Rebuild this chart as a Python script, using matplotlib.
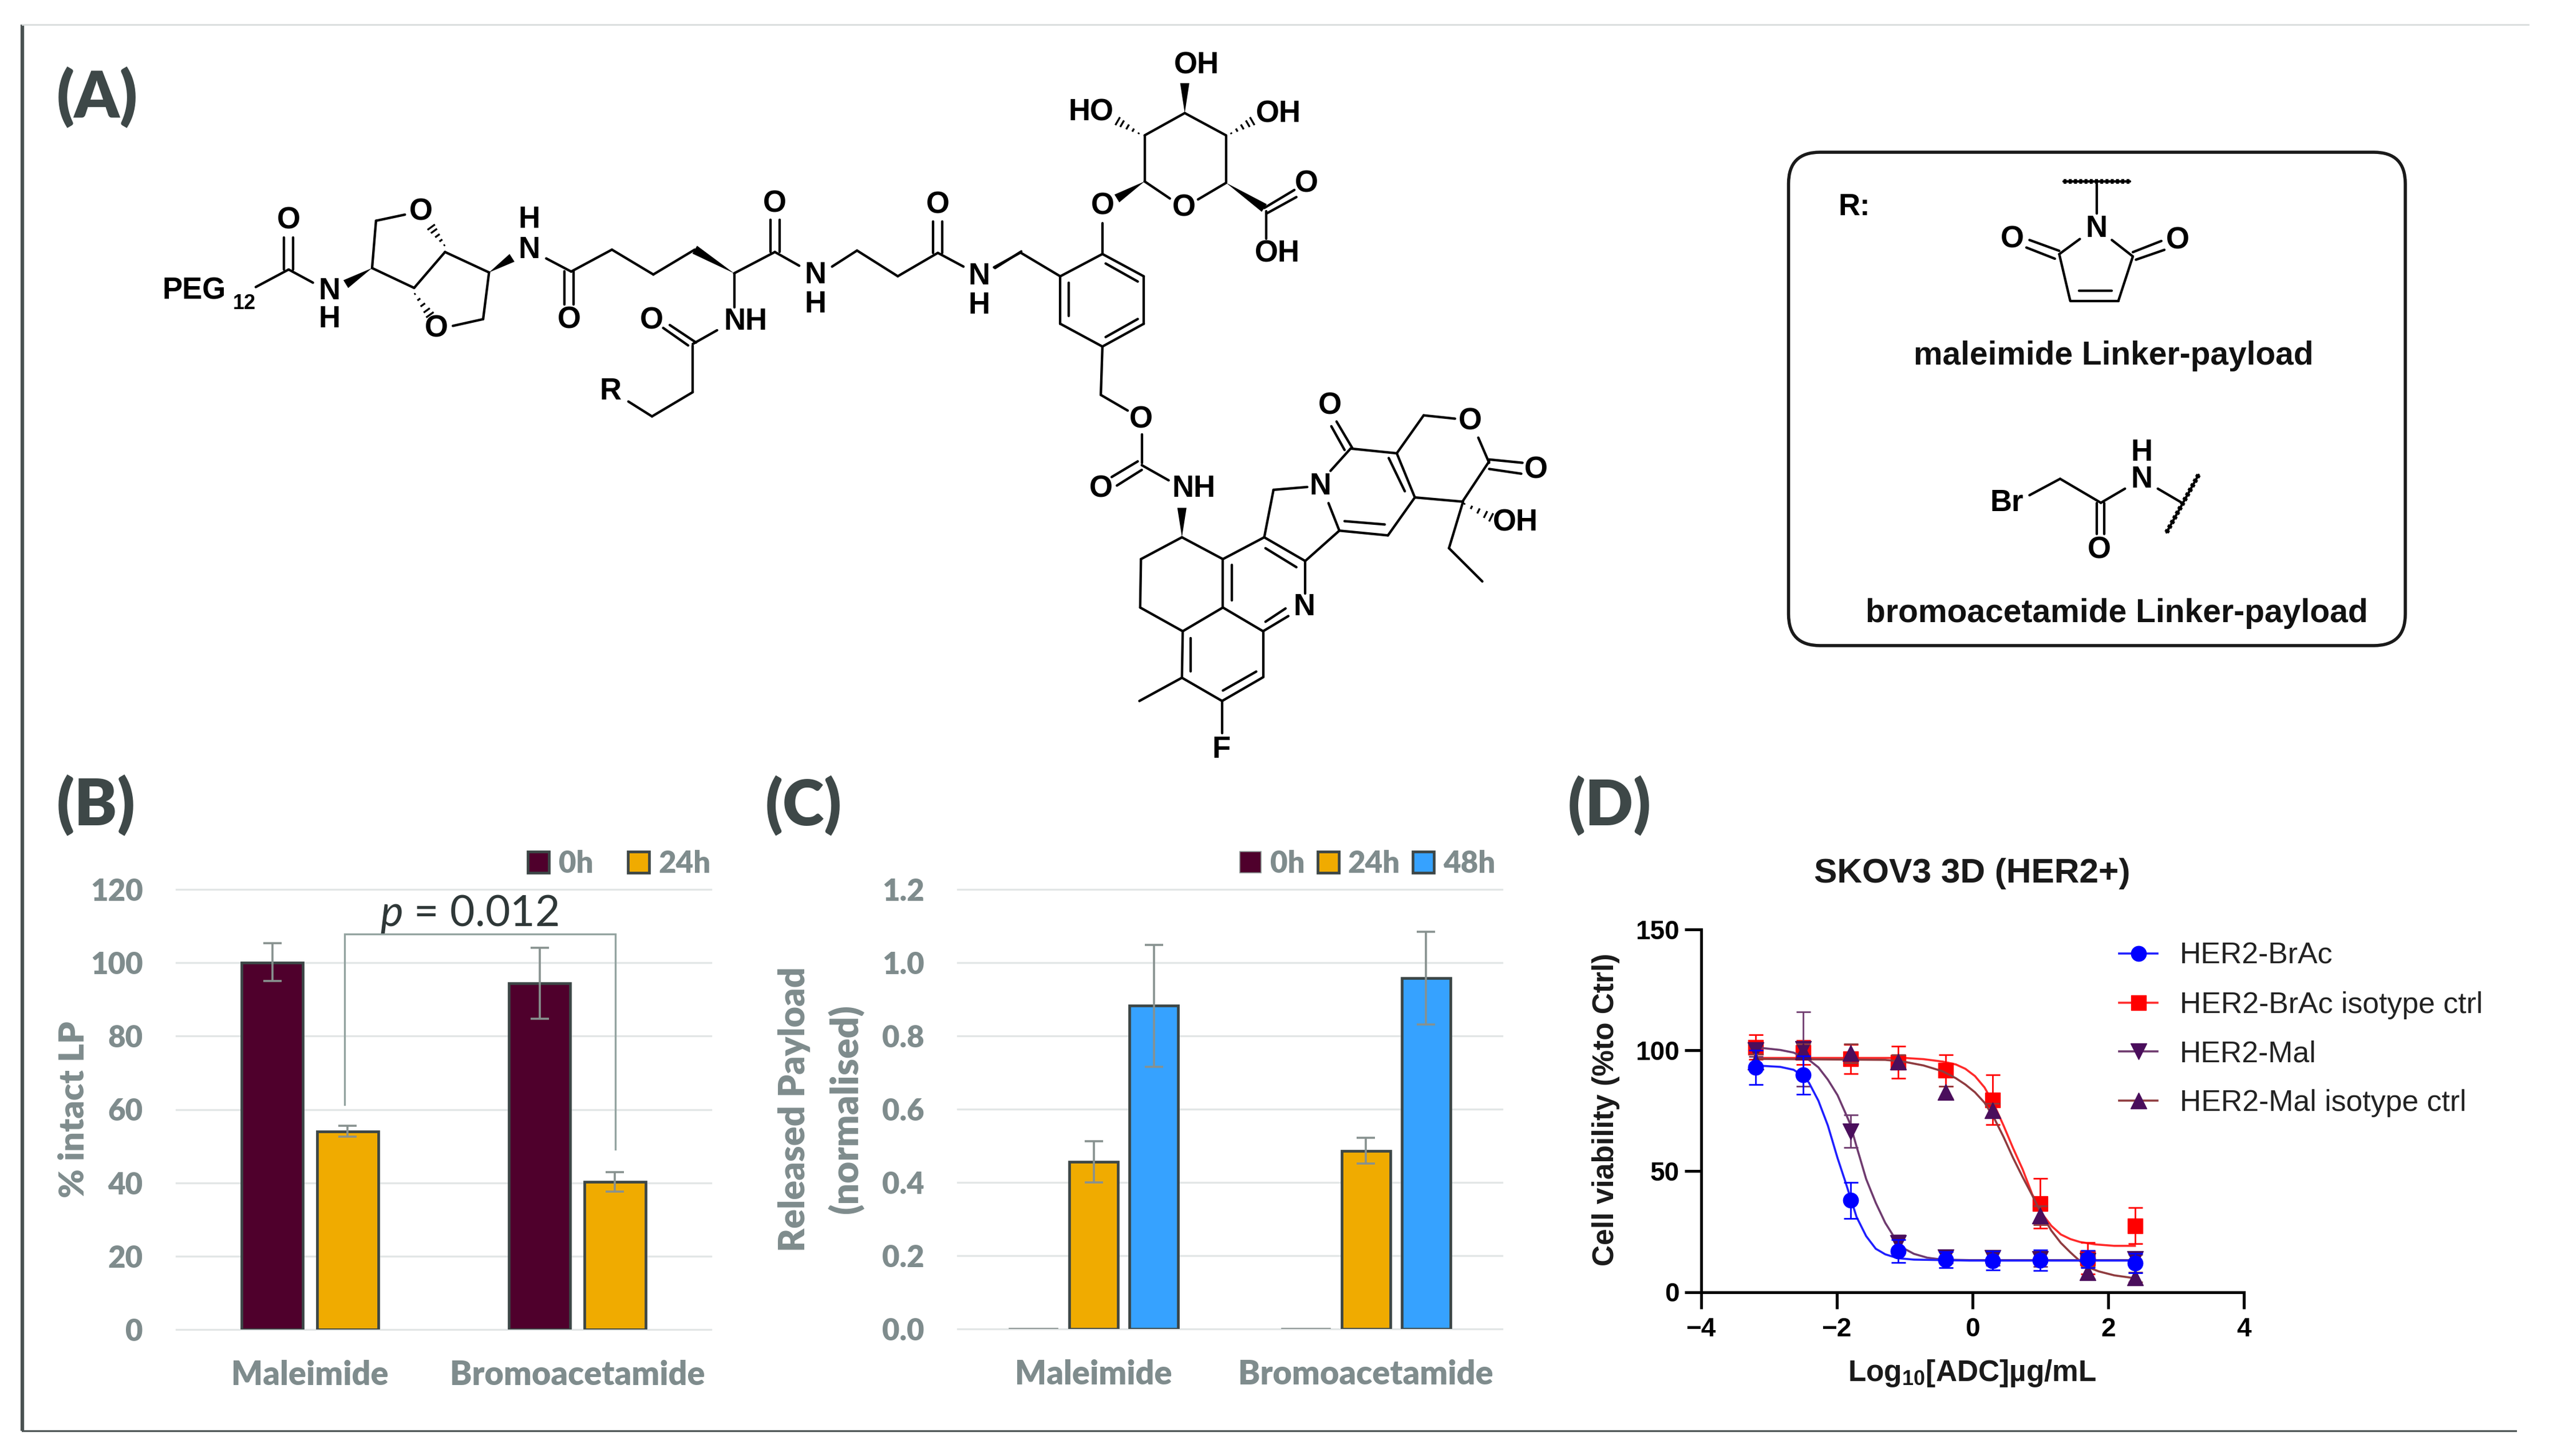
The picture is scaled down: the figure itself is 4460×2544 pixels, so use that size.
import numpy as np
import matplotlib
matplotlib.use('Agg')
from matplotlib import pyplot as plt
from matplotlib.lines import Line2D
from matplotlib.patches import FancyBboxPatch, Polygon

W, H = 4460, 2544

# panel B
times_b = ['0h', '24h']
cats = ['Maleimide', 'Bromoacetamide']
intact_0h = [100.0, 94.4]
intact_24h = [54.0, 40.3]
intact_0h_lo = [5.0, 9.7]
intact_0h_hi = [5.4, 9.7]
intact_24h_lo = [1.4, 2.7]
intact_24h_hi = [1.5, 2.6]
p_bracket_x = [0.13, 0.13, 1.142, 1.142]
p_bracket_y = [61.4, 107.8, 107.8, 49.2]

# panel C
times_c = ['0h', '24h', '48h']
rel_0h = [0.002, 0.002]
rel_24h = [0.456, 0.486]
rel_48h = [0.882, 0.958]
rel_24h_err = [0.056, 0.035]
rel_48h_err = [0.166, 0.127]

# panel D
log_conc = [-3.194, -2.495, -1.796, -1.097, -0.398, 0.301, 1.0, 1.699, 2.398]
brac_y = [92.9, 89.7, 37.9, 16.9, 13.4, 13.0, 13.2, 13.6, 12.0]
brac_err = [7.1, 7.9, 7.5, 4.7, 3.4, 3.9, 4.3, 3.6, 4.0]
brac_iso_y = [101.2, 99.0, 96.4, 95.0, 91.7, 79.5, 36.6, 14.0, 27.4]
brac_iso_err = [5.1, 5.0, 6.0, 6.7, 6.5, 10.3, 10.3, 6.5, 7.5]
mal_y = [100.0, 100.5, 66.5, 20.3, 14.4, 14.0, 13.6, 13.0, 13.5]
mal_err = [2.5, 15.3, 6.7, 3.2, 2.4, 3.0, 3.0, 2.5, 2.0]
mal_iso_y = [95.3, 99.6, 98.8, 95.2, 82.6, 75.1, 31.7, 8.1, 6.1]
mal_iso_err = [3.0, 3.0, 3.9, 3.0, 2.6, 3.0, 4.0, 2.5, 2.0]

# fitted curves
brac_fit_x = [-3.198, -2.832, -2.635, -2.494, -2.41, -2.27, -2.13, -1.988, -1.876, -1.707,
              -1.566, -1.425, -1.285, -1.102, -0.863, -0.047, 2.398]
brac_fit_y = [93.7, 93.1, 91.9, 89.3, 86.6, 79.1, 68.8, 55.4, 45.9, 31.0,
              23.1, 17.9, 15.6, 14.0, 13.4, 13.0, 13.0]
mal_fit_x = [-3.198, -2.832, -2.635, -2.41, -2.27, -2.13, -1.988, -1.876, -1.803, -1.707, -1.566,
             -1.425, -1.285, -1.144, -1.003, -0.863, -0.666, -0.441, -0.047, 2.398]
mal_fit_y = [101.2, 100.1, 99.0, 96.0, 92.9, 87.8, 81.4, 74.3, 69.6, 60.1, 46.7,
             36.9, 28.6, 22.3, 17.9, 15.8, 14.2, 13.4, 13.2, 13.2]
iso_fit_x = [-3.198, -1.003, -0.722, -0.441, -0.244, -0.104, 0.037, 0.178, 0.318, 0.459, 0.6,
             0.74, 0.881, 1.022, 1.162, 1.303, 1.443, 1.584, 1.809, 2.09, 2.394]
iso_fit_y = [96.8, 96.8, 96.3, 95.3, 94.1, 92.3, 89.3, 84.6, 77.5, 68.8, 59.4,
             50.7, 40.4, 32.5, 27.4, 23.8, 21.9, 20.7, 19.7, 19.1, 19.1]
mal_iso_fit_x = [-3.198, -1.285, -1.003, -0.722, -0.441, -0.244, -0.104, 0.037, 0.178, 0.318, 0.459,
                 0.6, 0.74, 0.881, 1.022, 1.162, 1.303, 1.443, 1.584, 1.725, 1.865, 2.09, 2.394]
mal_iso_fit_y = [96.4, 96.0, 95.2, 93.7, 91.3, 88.4, 85.8, 82.6, 78.3, 72.0, 64.1,
                 55.4, 47.5, 40.0, 32.1, 25.4, 20.3, 16.4, 12.8, 10.0, 8.5, 6.9, 5.7]
legend_d = ['HER2-BrAc', 'HER2-BrAc isotype ctrl', 'HER2-Mal', 'HER2-Mal isotype ctrl']

MAROON = '#4F002C'
ORANGE = '#F0AB00'
SKY = '#36A2FF'
EDGE = '#3C4646'
GRAY = '#7F8C8D'
ERR = '#87918F'
GRID = '#E2E6E6'
DARK = '#3E4848'
HEAVY = 800

plt.rcParams['font.family'] = ['Lato', 'DejaVu Sans']
plt.rcParams['mathtext.fontset'] = 'custom'
plt.rcParams['mathtext.it'] = 'Lato:italic'
plt.rcParams['mathtext.rm'] = 'Lato'
plt.rcParams['mathtext.bf'] = 'Liberation Sans:bold'

fig = plt.figure(figsize=(W / 100, H / 100), dpi=100, facecolor='white')


def axes_px(x0, y0, x1, y1):
    return fig.add_axes([x0 / W, 1 - y1 / H, (x1 - x0) / W, (y1 - y0) / H], facecolor='none')


def fit_text(t, length_px):
    # scale a text so that its long side matches the length measured on the figure
    box = t.get_window_extent(fig.canvas.get_renderer())
    t.set_fontsize(t.get_fontsize() * length_px / max(box.width, box.height))
    return t


# overlay in image pixels for frame, panel letters and the structures
ov = fig.add_axes([0, 0, 1, 1], facecolor='none')
ov.set_xlim(0, W)
ov.set_ylim(H, 0)
ov.axis('off')

ov.plot([39, 39], [43, 2500], color='#4A5252', lw=4.5, solid_capstyle='butt')
ov.plot([39, 4417], [43, 43], color='#D8DCDC', lw=2)
ov.plot([39, 4395], [2500, 2500], color='#4A5252', lw=2.2)

for lab, x, y, wd in [('(A)', 170, 170, 142), ('(B)', 168, 1407, 138), ('(C)', 1404, 1407, 134),
                      ('(D)', 2812, 1407, 146)]:
    fit_text(ov.text(x, y, lab, fontsize=76, fontweight=HEAVY, color=DARK, ha='center', va='center'), wd)


def draw_bars(ax, offsets, width):
    ax.set_xlim(-0.5, 1.5)
    ax.set_xticks([0, 1])
    ax.set_xticklabels(cats)
    for s in ax.spines.values():
        s.set_visible(False)
    ax.tick_params(axis='both', length=0, labelcolor=GRAY)
    ax.tick_params(axis='x', pad=38, labelsize=41.5)
    ax.tick_params(axis='y', pad=42, labelsize=38)
    for t in ax.get_xticklabels() + ax.get_yticklabels():
        t.set_fontweight(HEAVY)
    ax.yaxis.grid(True, color=GRID, lw=2.4)
    ax.set_axisbelow(True)
    for gl in ax.get_ygridlines():
        gl.set_clip_on(False)


# (B)
axb = axes_px(308, 1554, 1242, 2323)
xb = np.arange(len(cats))
bar_b = 0.229
off_b = 0.1413
errkw = dict(ecolor=ERR, elinewidth=2.6, capsize=11.5, capthick=2.6)
axb.bar(xb - off_b, intact_0h, bar_b, color=MAROON, edgecolor=EDGE, lw=3.4, label=times_b[0],
        yerr=[intact_0h_lo, intact_0h_hi], error_kw=errkw)
axb.bar(xb + off_b, intact_24h, bar_b, color=ORANGE, edgecolor=EDGE, lw=3.4, label=times_b[1],
        yerr=[intact_24h_lo, intact_24h_hi], error_kw=errkw)
axb.set_ylim(0, 120)
axb.set_yticks(range(0, 121, 20))
draw_bars(axb, off_b, bar_b)
axb.plot(p_bracket_x, p_bracket_y, color='#93A3A0', lw=2.4, solid_joinstyle='miter')
fit_text(axb.text(0.5 * (p_bracket_x[1] + p_bracket_x[2]) - 0.04, 110, r'$\mathit{p}$ = 0.012', fontsize=50,
                  color='#2F3838', ha='center', va='baseline'), 312)
axb.legend(ncol=2, loc='lower right', bbox_to_anchor=(1, 1 + 20 / 768), frameon=False,
           labelcolor=GRAY, prop={'size': 38, 'weight': HEAVY}, handlelength=0.7, handleheight=0.7,
           handletextpad=0.32, columnspacing=1.15, borderpad=0, borderaxespad=0)
fit_text(ov.text(129, 1939, '% intact LP', fontsize=38, fontweight=HEAVY, color=GRAY, rotation=90,
                 ha='center', va='center'), 308)

# (C)
axc = axes_px(1673, 1554, 2624, 2321.8)
xc = np.arange(len(cats))
bar_c = 0.178
off_c = 0.2208
axc.bar(xc - off_c, rel_0h, bar_c, color=MAROON, edgecolor=ERR, lw=1.2, label=times_c[0])
axc.bar(xc, rel_24h, bar_c, color=ORANGE, edgecolor=EDGE, lw=3.4, label=times_c[1],
        yerr=rel_24h_err, error_kw=errkw)
axc.bar(xc + off_c, rel_48h, bar_c, color=SKY, edgecolor=EDGE, lw=3.4, label=times_c[2],
        yerr=rel_48h_err, error_kw=errkw)
axc.set_ylim(0, 1.2)
axc.set_yticks([0, 0.2, 0.4, 0.6, 0.8, 1.0, 1.2])
axc.set_yticklabels(['0.0', '0.2', '0.4', '0.6', '0.8', '1.0', '1.2'])
draw_bars(axc, off_c, bar_c)
axc.legend(ncol=3, loc='lower right', bbox_to_anchor=(1 - 12 / 951, 1 + 20 / 766), frameon=False,
           labelcolor=GRAY, prop={'size': 38, 'weight': HEAVY}, handlelength=0.7, handleheight=0.7,
           handletextpad=0.3, columnspacing=0.42, borderpad=0, borderaxespad=0)
fit_text(ov.text(1387, 1938, 'Released Payload', fontsize=38, fontweight=HEAVY, color=GRAY, rotation=90,
                 ha='center', va='center'), 498)
fit_text(ov.text(1477, 1938, '(normalised)', fontsize=38, fontweight=HEAVY, color=GRAY, rotation=90,
                 ha='center', va='center'), 365)

# (D)
axd = axes_px(2971.6, 1623.7, 3920, 2257.5)
SANS = 'Liberation Sans'
series = [
    (brac_iso_y, brac_iso_err, iso_fit_x, iso_fit_y, 's', '#FF0000', '#FF2A2A', 19, 2),
    (mal_y, mal_err, mal_fit_x, mal_fit_y, 'v', '#4A0E5C', '#6F3B6F', 20, 3),
    (mal_iso_y, mal_iso_err, mal_iso_fit_x, mal_iso_fit_y, '^', '#4A0E5C', '#8F3B3F', 20, 4),
    (brac_y, brac_err, brac_fit_x, brac_fit_y, 'o', '#0000FF', '#1F1FFF', 19, 5),
]
for ys, es, fx, fy, mk, col, lcol, ms, zo in series:
    axd.plot(fx, fy, color=lcol, lw=2.6, zorder=zo)
    axd.errorbar(log_conc, ys, yerr=es, fmt=mk, color=col, ms=ms, ecolor=col if mk in 'so' else lcol,
                 elinewidth=2, capsize=9, capthick=2, zorder=zo)
axd.set_xlim(-4, 4)
axd.set_ylim(0, 150)
axd.set_xticks([-4, -2, 0, 2, 4])
axd.set_yticks([0, 50, 100, 150])
for side in ['top', 'right']:
    axd.spines[side].set_visible(False)
for side in ['left', 'bottom']:
    axd.spines[side].set_linewidth(3.6)
axd.tick_params(axis='both', length=21, width=3.6, labelsize=33)
axd.tick_params(axis='x', pad=10)
axd.tick_params(axis='y', pad=6)
for t in axd.get_xticklabels() + axd.get_yticklabels():
    t.set_fontfamily(SANS)
    t.set_fontweight('bold')
fit_text(ov.text(3445, 1526, 'SKOV3 3D (HER2+)', fontsize=37, fontweight='bold', family=SANS, color='#1A1A1A',
                 ha='center', va='center'), 552)
fit_text(ov.text(2806, 1939, 'Cell viability (%to Ctrl)', fontsize=36, fontweight='bold', family=SANS,
                 color='#1A1A1A', rotation=90, ha='center', va='center'), 546)
fit_text(ov.text(3445, 2399, r'Log$_{\mathbf{10}}$[ADC]µg/mL', fontsize=34, fontweight='bold', family=SANS,
                 color='#1A1A1A', ha='center', va='center'), 435)
handles = [
    Line2D([], [], color='#1F1FFF', lw=2.6, marker='o', ms=19, mfc='#0000FF', mec='#0000FF'),
    Line2D([], [], color='#FF2A2A', lw=2.6, marker='s', ms=19, mfc='#FF0000', mec='#FF0000'),
    Line2D([], [], color='#6F3B6F', lw=2.6, marker='v', ms=20, mfc='#4A0E5C', mec='#4A0E5C'),
    Line2D([], [], color='#8F3B3F', lw=2.6, marker='^', ms=20, mfc='#4A0E5C', mec='#4A0E5C'),
]
axd.legend(handles, legend_d, loc='upper left', bbox_to_anchor=(3702 / W, 1 - 1646 / H),
           bbox_transform=fig.transFigure, frameon=False, labelcolor='#222222',
           prop={'family': SANS, 'size': 37.3}, handlelength=1.3, handletextpad=0.75, labelspacing=0.71,
           borderpad=0, borderaxespad=0)


# structures: bonds are given in the coordinates of the crop they were traced on
def draw_fragment(frag, bonds, wedges=(), hashes=(), labels=()):
    sx, sy, ox, oy = frag
    px = lambda p: (ox + p[0] / sx, oy + p[1] / sy)
    for x1, y1, x2, y2 in bonds:
        a, b = px((x1, y1)), px((x2, y2))
        ov.plot([a[0], b[0]], [a[1], b[1]], color='black', lw=3.1, solid_capstyle='round')
    for x1, y1, x2, y2 in wedges:
        a, b = np.array(px((x1, y1))), np.array(px((x2, y2)))
        d = b - a
        n = np.array([-d[1], d[0]]) / np.hypot(*d) * 8
        ov.add_patch(Polygon([a, b + n, b - n], closed=True, color='black', lw=0))
    for x1, y1, x2, y2 in hashes:
        a, b = np.array(px((x1, y1))), np.array(px((x2, y2)))
        d = b - a
        n = np.array([-d[1], d[0]]) / np.hypot(*d)
        for f in (0.05, 0.3, 0.55, 0.8, 1.0):
            c = a + d * f
            w = 1 + 7 * f
            ov.plot([c[0] - n[0] * w, c[0] + n[0] * w], [c[1] - n[1] * w, c[1] + n[1] * w],
                    color='black', lw=2.4, solid_capstyle='butt')
    for txt, x, y, *size in labels:
        c = px((x, y))
        ov.text(c[0], c[1], txt, fontsize=size[0] if size else 38, fontweight='bold', family=SANS,
                color='black', ha='center', va='center')


crop_left = (1568 / 1800, 1568 / 800, 200, 50)
draw_fragment(
    crop_left,
    bonds=[(215, 885, 265, 825), (258, 825, 258, 715), (272, 825, 272, 715), (265, 825, 302, 870),
           (392, 820, 398, 658), (398, 658, 442, 637), (392, 820, 456, 888), (456, 888, 503, 765),
           (503, 765, 570, 835), (570, 835, 561, 995), (561, 995, 515, 1018), (657, 787, 695, 832),
           (685, 832, 685, 945), (699, 832, 699, 945), (695, 832, 757, 757), (757, 757, 820, 842),
           (820, 842, 883, 757), (943, 838, 1005, 765), (943, 838, 943, 955), (998, 765, 998, 655),
           (1012, 765, 1012, 655), (1005, 765, 1042, 812), (1092, 815, 1130, 760), (1130, 760, 1192, 848),
           (1192, 848, 1253, 768), (1246, 768, 1246, 660), (1260, 768, 1260, 660), (1253, 768, 1292, 815),
           (1340, 820, 1380, 763), (917, 1033, 880, 1080), (885, 1075, 845, 1015), (873, 1085, 835, 1025),
           (880, 1085, 880, 1245), (880, 1245, 818, 1328), (818, 1328, 782, 1277)],
    wedges=[(392, 820, 352, 875), (570, 835, 605, 785), (943, 838, 883, 757)],
    hashes=[(503, 745, 482, 680), (456, 905, 480, 980)],
    labels=[('PEG', 121, 899), ('12', 198, 942, 26), ('O', 265, 657), ('N', 327, 900), ('H', 327, 995),
            ('O', 466, 628), ('O', 490, 1028), ('N', 631, 758), ('H', 631, 655), ('O', 692, 998),
            ('NH', 960, 1003), ('O', 1005, 600), ('N', 1067, 845), ('H', 1067, 945), ('O', 1253, 605),
            ('N', 1316, 848), ('H', 1316, 948), ('O', 817, 1000), ('R', 755, 1243)])

crop_mid = (1568 / 1100, 1568 / 1300, 1700, 50)
draw_fragment(
    crop_mid,
    bonds=[(217, 522, 322, 475), (322, 475, 425, 522), (425, 522, 425, 622), (425, 622, 322, 670),
           (322, 670, 217, 622), (217, 622, 217, 522), (330, 495, 410, 533), (330, 650, 410, 612),
           (238, 605, 238, 535), (322, 475, 322, 410), (217, 522, 118, 472), (118, 472, 52, 503),
           (322, 670, 318, 772), (318, 772, 385, 805), (420, 855, 420, 915), (410, 912, 345, 945),
           (420, 930, 358, 963), (420, 920, 487, 952), (520, 1072, 622, 1118), (520, 1072, 418, 1118),
           (418, 1118, 416, 1220), (416, 1220, 522, 1270), (522, 1270, 622, 1220), (622, 1220, 622, 1118),
           (622, 1118, 725, 1072), (645, 1130, 645, 1205), (622, 1220, 722, 1270), (722, 1270, 722, 1367),
           (722, 1367, 620, 1417), (705, 1355, 622, 1395), (620, 1417, 520, 1368), (520, 1368, 522, 1270),
           (542, 1355, 542, 1285), (520, 1368, 414, 1417), (620, 1417, 620, 1485), (722, 1270, 785, 1238),
           (728, 1250, 778, 1222), (827, 1190, 827, 1122), (827, 1122, 725, 1072), (805, 1135, 728, 1095),
           (725, 1072, 748, 972), (748, 972, 832, 966), (827, 1122, 912, 1058), (912, 1058, 885, 1000),
           (912, 1058, 1033, 1068), (925, 1038, 1025, 1045), (1033, 1068, 1100, 988), (1100, 988, 1055, 895),
           (1075, 975, 1035, 905), (1055, 895, 940, 885), (940, 885, 890, 932), (945, 885, 905, 828),
           (925, 888, 892, 838), (1055, 895, 1122, 815), (1122, 815, 1200, 822), (1258, 862, 1285, 915),
           (1285, 912, 1220, 995), (1285, 908, 1368, 915), (1285, 928, 1365, 938), (1100, 988, 1220, 997),
           (1220, 997, 1185, 1095), (1185, 1095, 1268, 1165), (427, 322, 427, 225), (427, 225, 527, 178),
           (527, 178, 630, 225), (630, 225, 630, 325), (630, 325, 560, 360), (490, 358, 427, 322),
           (725, 378, 800, 340), (730, 390, 805, 355), (730, 385, 730, 443)],
    wedges=[(520, 1072, 520, 1010), (427, 322, 358, 358), (630, 325, 725, 378), (527, 178, 527, 115)],
    hashes=[(1220, 1000, 1290, 1030), (415, 222, 360, 195), (640, 222, 695, 195)],
    labels=[('O', 322, 375), ('O', 418, 825), ('O', 318, 970), ('NH', 550, 970),
            ('F', 618, 1520), ('N', 825, 1220), ('N', 865, 965), ('O', 888, 795), ('O', 1238, 828),
            ('O', 1402, 930), ('OH', 1350, 1042), ('O', 525, 378), ('OH', 557, 78), ('HO', 293, 177),
            ('OH', 760, 180), ('O', 830, 328), ('OH', 757, 475)])

# R box
ov.add_patch(FancyBboxPatch((3124.5 + 55, 266 + 55), 1077.5 - 110, 862 - 110,
                            boxstyle='round,pad=55,rounding_size=55', fc='none', ec='#1A1A1A', lw=4))
crop_box = (1568 / 1200, 1568 / 900, 3100, 250)
draw_fragment(
    crop_box,
    bonds=[(735, 215, 735, 125), (697, 292, 650, 338), (650, 338, 675, 480), (675, 480, 785, 480),
           (785, 480, 818, 345), (818, 345, 770, 295), (695, 450, 770, 450), (582, 295, 650, 328),
           (575, 318, 640, 352), (818, 332, 883, 298), (825, 355, 890, 325), (582, 1072, 652, 1022),
           (652, 1022, 745, 1095), (745, 1095, 800, 1052), (735, 1095, 735, 1190), (752, 1095, 752, 1190),
           (875, 1052, 930, 1095), (660, 117, 812, 117), (968, 1010, 895, 1185)],
    labels=[('N', 735, 262), ('O', 543, 293), ('O', 920, 297), ('Br', 530, 1095), ('N', 838, 1025),
            ('H', 838, 942), ('O', 742, 1240), ('R:', 182, 195)])
# the cut bonds carry a fine wave, drawn dotted on the thicker stroke
ov.plot([3100 + 660 * 1200 / 1568, 3100 + 812 * 1200 / 1568], [250 + 117 * 900 / 1568] * 2, color='black',
        lw=6, ls=(0, (0.6, 0.5)))
ov.plot([3100 + 968 * 1200 / 1568, 3100 + 895 * 1200 / 1568], [250 + 1010 * 900 / 1568, 250 + 1185 * 900 / 1568],
        color='black', lw=6, ls=(0, (0.6, 0.5)))
fit_text(ov.text(3692, 622, 'maleimide Linker-payload', fontsize=38, fontweight='bold', family=SANS,
                 color='#111111', ha='center', va='center'), 698)
fit_text(ov.text(3698, 1072, 'bromoacetamide Linker-payload', fontsize=38, fontweight='bold', family=SANS,
                 color='#111111', ha='center', va='center'), 876)

fig.savefig('out.png', dpi=100, facecolor='white')
